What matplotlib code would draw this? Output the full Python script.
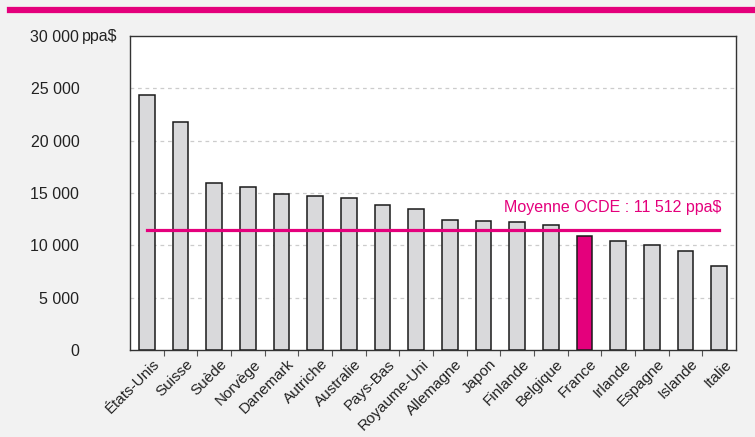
import matplotlib
matplotlib.use("Agg")
import matplotlib.pyplot as plt
from matplotlib.lines import Line2D
from matplotlib.ticker import FixedLocator
from matplotlib.transforms import ScaledTranslation

plt.rcParams['font.family'] = ['Liberation Sans', 'DejaVu Sans']

pays = ['États-Unis', 'Suisse', 'Suède', 'Norvège', 'Danemark', 'Autriche',
        'Australie', 'Pays-Bas', 'Royaume-Uni', 'Allemagne', 'Japon', 'Finlande',
        'Belgique', 'France', 'Irlande', 'Espagne', 'Islande', 'Italie']
depense = [24400, 21750, 15930, 15550, 14940, 14750, 14560, 13860, 13480,
           12420, 12290, 12230, 11940, 10920, 10410, 10030, 9450, 7980]
moyenne_ocde = 11512
yticks = [0, 5000, 10000, 15000, 20000, 25000, 30000]
ylabels = ['0', '5 000', '10 000', '15 000', '20 000', '25 000', '30 000']

magenta = '#e4007c'
bg = '#f2f2f2'
txt = '#222222'

fig = plt.figure(figsize=(7.55, 4.37), dpi=100, facecolor=bg)
ax = fig.add_axes([130 / 755, 1 - 350 / 437, 606 / 755, 314 / 437])
ax.set_facecolor('white')

x = list(range(len(pays)))
colors = [magenta if p == 'France' else '#d9d9db' for p in pays]
ax.bar(x, depense, width=0.47, color=colors, edgecolor='#1a1a1a', linewidth=1.1, zorder=3)

ax.plot([x[0], x[-1]], [moyenne_ocde, moyenne_ocde], color=magenta, lw=2.3, zorder=4)
ax.text(x[-1] + 0.08, 13150, 'Moyenne OCDE : 11 512 ppa$', color=magenta,
        fontsize=11.5, ha='right', va='baseline', zorder=5)

ax.set_xlim(-0.5, len(pays) - 0.5)
ax.set_ylim(0, 30000)
ax.set_yticks(yticks)
ax.set_yticklabels(ylabels, fontsize=11.5, color=txt)
ax.tick_params(axis='y', length=0, pad=36.5)
# unité accolée au dernier label
ax.annotate('ppa$', xy=(0, 30000), xycoords=('axes fraction', 'data'),
            xytext=(-34.5, 0), textcoords='offset points', ha='left', va='center',
            fontsize=11.5, color=txt, annotation_clip=False)

ax.set_xticks(x)
ax.set_xticklabels(pays, rotation=45, ha='right', rotation_mode='anchor',
                   fontsize=11, color=txt)
ax.tick_params(axis='x', which='major', length=0, pad=5)
off = ScaledTranslation(4 / 72, 0, fig.dpi_scale_trans)
for t in ax.get_xticklabels():
    t.set_transform(t.get_transform() + off)
ax.xaxis.set_minor_locator(FixedLocator([i + 0.5 for i in x[:-1]]))
ax.tick_params(axis='x', which='minor', length=4, width=0.8, color='#555555', direction='out')

for yv in yticks[1:-1]:
    ax.axhline(yv, color='#cccccc', lw=0.9, ls=(0, (3, 3)), zorder=1)

for s in ax.spines.values():
    s.set_color('#333333')
    s.set_linewidth(1)

fig.add_artist(Line2D([10 / 755, 1], [1 - 10 / 437, 1 - 10 / 437], color=magenta,
                      lw=4.5, transform=fig.transFigure))

fig.savefig('out.png', dpi=100, facecolor=bg)
